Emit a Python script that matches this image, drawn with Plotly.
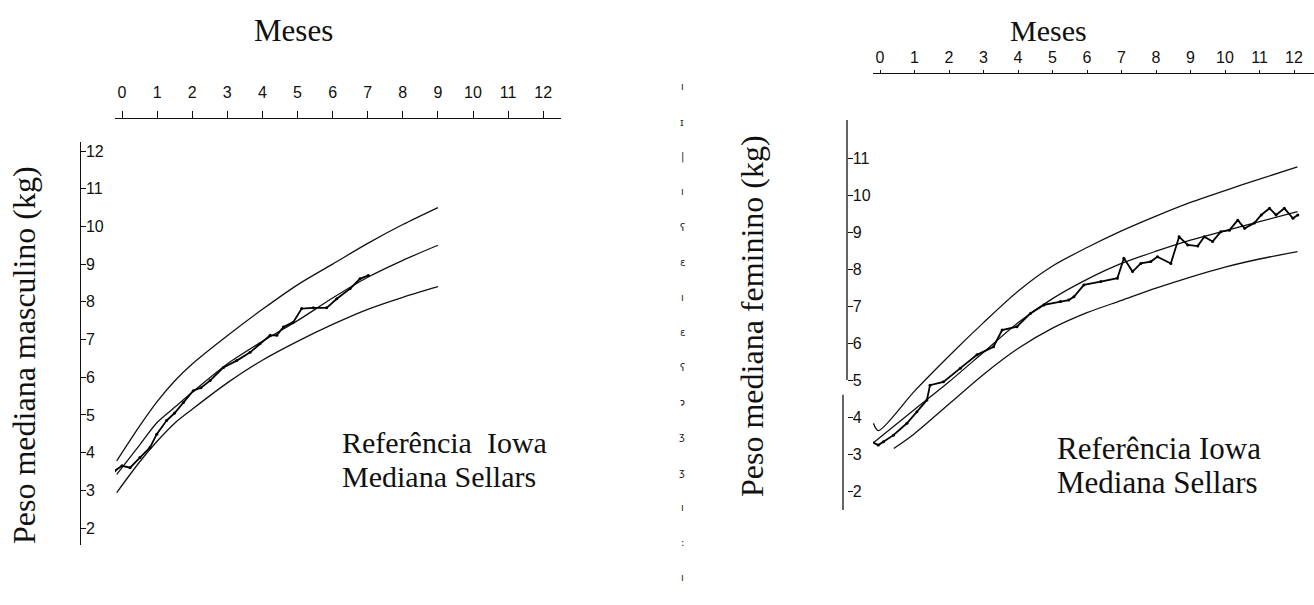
import plotly.graph_objects as go

# ---------------- data ----------------
month_ticks = list(range(0, 13))
boys_kg_ticks = list(range(2, 13))
girls_kg_ticks = list(range(2, 12))

# Boys (left chart) - Iowa reference curves
boys_curve_months = [-0.15, 0.5, 1, 1.5, 2, 3, 4, 5, 6, 7, 8, 9]
boys_upper = [3.78, 4.7, 5.35, 5.9, 6.35, 7.1, 7.8, 8.45, 9.0, 9.55, 10.05, 10.5]
boys_middle = [3.42, 4.2, 4.8, 5.2, 5.6, 6.35, 6.95, 7.5, 8.1, 8.65, 9.1, 9.5]
boys_lower = [2.94, 3.75, 4.3, 4.78, 5.15, 5.85, 6.45, 6.95, 7.4, 7.8, 8.12, 8.4]

# Boys - Sellars median
boys_data_months = [-0.2, 0.0, 0.23, 0.51, 0.8, 0.99, 1.27, 1.5, 1.75, 2.03, 2.25, 2.51,
                    2.89, 3.27, 3.65, 3.93, 4.22, 4.41, 4.6, 4.88, 5.12, 5.45, 5.83,
                    6.12, 6.5, 6.78, 7.02]
boys_data = [3.52, 3.65, 3.6, 3.87, 4.14, 4.49, 4.85, 5.05, 5.33, 5.64, 5.72, 5.91,
             6.26, 6.44, 6.66, 6.89, 7.11, 7.11, 7.33, 7.46, 7.82, 7.84, 7.84,
             8.08, 8.35, 8.61, 8.70]

# Girls (right chart) - Iowa reference curves
girls_upper_months = [-0.19, -0.05, 1, 2, 3, 4, 5, 6, 7, 8, 9, 10, 11, 12.1]
girls_upper = [3.83, 3.63, 4.7, 5.65, 6.55, 7.4, 8.08, 8.58, 9.03, 9.43, 9.8, 10.12, 10.43, 10.76]
girls_middle_months = [-0.2, 1, 2, 3, 4, 5, 6, 7, 8, 9, 10, 11, 12.1]
girls_middle = [3.3, 4.2, 4.95, 5.75, 6.55, 7.2, 7.72, 8.15, 8.48, 8.78, 9.03, 9.28, 9.55]
girls_lower_months = [0.4, 1, 2, 3, 4, 5, 6, 7, 8, 9, 10, 11, 12.1]
girls_lower = [3.15, 3.55, 4.35, 5.15, 5.85, 6.4, 6.82, 7.15, 7.48, 7.78, 8.05, 8.27, 8.47]

# Girls - Sellars median
girls_data_months = [-0.24, -0.05, 0.1, 0.39, 0.78, 1.07, 1.36, 1.45, 1.84, 2.33, 2.81, 3.29,
                     3.54, 3.97, 4.36, 4.75, 5.23, 5.47, 5.62, 5.91, 6.4, 6.88, 7.07, 7.32,
                     7.56, 7.85, 8.04, 8.43, 8.67, 8.92, 9.21, 9.4, 9.64, 9.88, 10.13, 10.37,
                     10.57, 10.85, 11.05, 11.29, 11.48, 11.72, 11.97, 12.11]
girls_data = [3.33, 3.24, 3.33, 3.51, 3.83, 4.14, 4.46, 4.86, 4.95, 5.32, 5.68, 5.9,
              6.35, 6.44, 6.80, 7.03, 7.12, 7.16, 7.25, 7.57, 7.66, 7.75, 8.29, 7.93,
              8.15, 8.2, 8.33, 8.15, 8.87, 8.65, 8.62, 8.87, 8.74, 9.01, 9.05, 9.32,
              9.1, 9.24, 9.46, 9.64, 9.46, 9.64, 9.37, 9.46]

# texts
x_title = "Meses"
boys_title = "Peso mediana masculino (kg)"
girls_title = "Peso mediana feminino (kg)"
boys_legend = ["Referência\u00a0\u00a0Iowa", "Mediana Sellars"]
girls_legend = ["Referência\u00a0Iowa", "Mediana Sellars"]

# scan bleed-through marks in the gutter (decoration)
gutter_glyphs = ["ı", "ɪ", "|", "ı", "ʕ", "ɛ", "ı", "ɛ", "ʕ", "ɂ", "ʒ", "ʒ", "ı", ":", "ı"]

# ---------------- figure ----------------
W, H = 1314, 605
SERIF = "Liberation Serif, Times New Roman, serif"
SANS = "Liberation Sans, Arial, sans-serif"

fig = go.Figure()

curve_style = dict(color="#111111", width=1.3, shape="spline", smoothing=0.8)
data_style = dict(color="#000000", width=1.8)

for xs, ys in [(boys_curve_months, boys_upper), (boys_curve_months, boys_middle),
               (boys_curve_months, boys_lower)]:
    fig.add_trace(go.Scatter(x=xs, y=ys, mode="lines", line=curve_style,
                             xaxis="x", yaxis="y", showlegend=False, hoverinfo="skip"))
fig.add_trace(go.Scatter(x=boys_data_months, y=boys_data, mode="lines+markers",
                         line=data_style, marker=dict(size=3, color="#000"),
                         xaxis="x", yaxis="y", showlegend=False))

for xs, ys in [(girls_upper_months, girls_upper), (girls_middle_months, girls_middle),
               (girls_lower_months, girls_lower)]:
    fig.add_trace(go.Scatter(x=xs, y=ys, mode="lines", line=curve_style,
                             xaxis="x2", yaxis="y2", showlegend=False, hoverinfo="skip"))
fig.add_trace(go.Scatter(x=girls_data_months, y=girls_data, mode="lines+markers",
                         line=data_style, marker=dict(size=3, color="#000"),
                         xaxis="x2", yaxis="y2", showlegend=False))


def px_x(p):
    return p / W


def px_y(p):
    return 1 - p / H


axis_common = dict(showgrid=False, zeroline=False, showline=True, linecolor="#111",
                   linewidth=1.3, tickcolor="#111", tickwidth=1.2,
                   tickfont=dict(family=SANS, size=16, color="#111"))

# left chart axes: month 0 at px 122, 35.1 px per month; 12 kg at px 151, 37.7 px per kg
fig.update_layout(
    xaxis=dict(domain=[px_x(115), px_x(561)],
               range=[(115 - 122) / 35.1, (561 - 122) / 35.1],
               side="top", anchor="free", position=px_y(118),
               tickmode="array", tickvals=month_ticks, ticks="outside", ticklen=7,
               ticklabelstandoff=6, **axis_common),
    yaxis=dict(domain=[px_y(545), px_y(142)],
               range=[12 - (545 - 151) / 37.7, 12 + (151 - 142) / 37.7],
               anchor="free", position=px_x(80), side="left",
               tickmode="array", tickvals=boys_kg_ticks, ticks="inside", ticklen=5,
               ticklabelposition="inside", **axis_common),
    # right chart axes: month 0 at px 880, 34.5 px per month; 11 kg at px 158, 37 px per kg
    xaxis2=dict(domain=[px_x(873), 1.0],
                range=[(873 - 880) / 34.5, (1314 - 880) / 34.5],
                side="top", anchor="free", position=px_y(73),
                tickmode="array", tickvals=month_ticks, ticks="outside", ticklen=3,
                ticklabelstandoff=0, **axis_common),
    yaxis2=dict(domain=[px_y(510), px_y(120)],
                range=[11 - (510 - 158) / 37.0, 11 + (158 - 120) / 37.0],
                anchor="free", position=px_x(847), side="left",
                tickmode="array", tickvals=girls_kg_ticks, ticks="inside", ticklen=5,
                ticklabelposition="inside",
                **{**axis_common, "showline": False}),
)

# broken vertical axis line of the right chart
fig.add_shape(type="line", xref="paper", yref="y2", x0=px_x(847), x1=px_x(847),
              y0=5.0, y1=11 + (158 - 120) / 37.0, line=dict(color="#111", width=1.3))
fig.add_shape(type="line", xref="paper", yref="y2", x0=px_x(843), x1=px_x(843),
              y0=11 - (510 - 158) / 37.0, y1=4.6, line=dict(color="#111", width=1.3))

ann = []
# "Meses" titles
ann.append(dict(text=x_title, x=px_x(293), y=px_y(30), xref="paper", yref="paper",
                showarrow=False, xanchor="center", yanchor="middle",
                font=dict(family=SERIF, size=31, color="#111")))
ann.append(dict(text=x_title, x=px_x(1048), y=px_y(30), xref="paper", yref="paper",
                showarrow=False, xanchor="center", yanchor="middle",
                font=dict(family=SERIF, size=30, color="#111")))
# y titles
ann.append(dict(text=boys_title, x=px_x(24), y=px_y(355), xref="paper", yref="paper",
                showarrow=False, textangle=-90, xanchor="center", yanchor="middle",
                font=dict(family=SERIF, size=32, color="#111")))
ann.append(dict(text=girls_title, x=px_x(752), y=px_y(316), xref="paper", yref="paper",
                showarrow=False, textangle=-90, xanchor="center", yanchor="middle",
                font=dict(family=SERIF, size=32, color="#111")))
# legends in chart
for i, t in enumerate(boys_legend):
    ann.append(dict(text=t, x=px_x(340), y=px_y(442 + 34 * i), xref="paper", yref="paper",
                    showarrow=False, xanchor="left", yanchor="middle",
                    font=dict(family=SERIF, size=30, color="#111")))
for i, t in enumerate(girls_legend):
    ann.append(dict(text=t, x=px_x(1055), y=px_y(448 + 34 * i), xref="paper", yref="paper",
                    showarrow=False, xanchor="left", yanchor="middle",
                    font=dict(family=SERIF, size=31, color="#111")))
# gutter marks
for i, g in enumerate(gutter_glyphs):
    ann.append(dict(text=g, x=px_x(682), y=px_y(87 + 35 * i), xref="paper", yref="paper",
                    showarrow=False, xanchor="center", yanchor="middle",
                    font=dict(family="DejaVu Sans", size=10, color="#222")))

fig.update_layout(annotations=ann, width=W, height=H,
                  margin=dict(l=0, r=0, t=0, b=0),
                  paper_bgcolor="white", plot_bgcolor="white", showlegend=False)

fig.write_html("out.html")
